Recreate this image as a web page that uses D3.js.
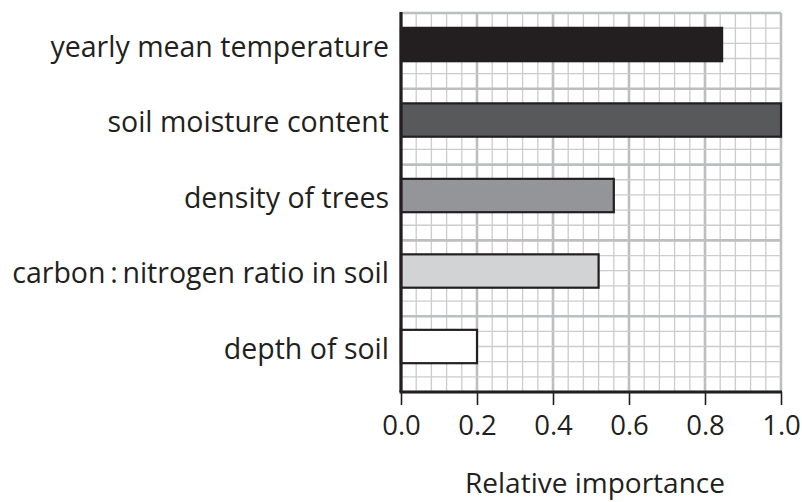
<!DOCTYPE html>
<html>
<head>
<meta charset="utf-8">
<script src="https://cdn.jsdelivr.net/npm/d3@7"></script>
<style>
  body { margin: 0; background: #fff; }
  svg text { font-family: 'Open Sans', 'Noto Sans', sans-serif; fill: #231f20; }
</style>
</head>
<body>
<svg id="chart" width="802" height="502"></svg>
<script>
const categories = [
  'yearly mean temperature',
  'soil moisture content',
  'density of trees',
  'carbon\u2009:\u2009nitrogen ratio in soil',
  'depth of soil'
]
const values = [0.845, 1.0, 0.56, 0.52, 0.2]
const barColors = ['#231f20', '#58595b', '#939598', '#d1d3d4', '#ffffff']
const xTicks = [0, 0.2, 0.4, 0.6, 0.8, 1.0]

const svg = d3.select('#chart')
const plotLeft = 401, plotRight = 781, plotTop = 13, plotBottom = 392
const cells = 25

const x = d3.scaleLinear().domain([0, 1]).range([plotLeft, plotRight])
// grid rows, counted from the top
const gy = d3.scaleLinear().domain([0, cells]).range([plotTop, plotBottom])
const y = d3.scalePoint().domain(categories).range([gy(2.08), gy(22)])
const barH = gy(2.2) - gy(0)

// Grid
const grid = svg.append('g')
const minorX = d3.range(0, cells + 1).map(i => i / cells)
grid.selectAll('line.vx')
  .data(minorX)
  .join('line')
  .attr('x1', d => x(d)).attr('x2', d => x(d))
  .attr('y1', plotTop).attr('y2', plotBottom)
  .attr('stroke', (d, i) => i % 5 === 0 ? '#bcbec0' : '#cbcccd')
  .attr('stroke-width', (d, i) => i % 5 === 0 ? 2.6 : 1.3)

grid.selectAll('line.hy')
  .data(d3.range(0, cells + 1))
  .join('line')
  .attr('x1', plotLeft).attr('x2', plotRight)
  .attr('y1', d => gy(d)).attr('y2', d => gy(d))
  .attr('stroke', d => d % 5 === 0 ? '#bcbec0' : '#cbcccd')
  .attr('stroke-width', d => d % 5 === 0 ? 2.6 : 1.3)

// Bars
svg.append('g').selectAll('rect')
  .data(categories)
  .join('rect')
  .attr('x', x(0))
  .attr('y', d => y(d) - barH / 2)
  .attr('width', (d, i) => x(values[i]) - x(0))
  .attr('height', barH)
  .attr('fill', (d, i) => barColors[i])
  .attr('stroke', '#231f20')
  .attr('stroke-width', 2.2)

// Category labels
svg.append('g').selectAll('text')
  .data(categories)
  .join('text')
  .attr('x', 389)
  .attr('y', d => y(d) + 12)
  .attr('text-anchor', 'end')
  .style('font-size', '28.5px')
  .text(d => d)

// Axes
const xAxis = d3.axisBottom(x)
  .tickValues(xTicks)
  .tickFormat(d3.format('.1f'))
  .tickSize(13)
  .tickPadding(10)
const gx = svg.append('g')
  .attr('transform', `translate(0,${plotBottom})`)
  .call(xAxis)
gx.select('.domain').remove()
gx.selectAll('.tick line').attr('stroke', '#231f20').attr('stroke-width', 1.6)
gx.selectAll('.tick text')
  .style('font-size', '27.5px')
  .attr('fill', '#231f20')
gx.attr('font-family', null).attr('font-size', null)

svg.append('line')
  .attr('x1', plotLeft - 1.5).attr('x2', plotRight + 1)
  .attr('y1', plotBottom).attr('y2', plotBottom)
  .attr('stroke', '#231f20').attr('stroke-width', 3.2)
svg.append('line')
  .attr('x1', plotLeft).attr('x2', plotLeft)
  .attr('y1', plotTop - 1).attr('y2', plotBottom)
  .attr('stroke', '#231f20').attr('stroke-width', 3.2)

svg.append('text')
  .attr('x', 595)
  .attr('y', 493)
  .attr('text-anchor', 'middle')
  .style('font-size', '28px')
  .text('Relative importance')
</script>
</body>
</html>
